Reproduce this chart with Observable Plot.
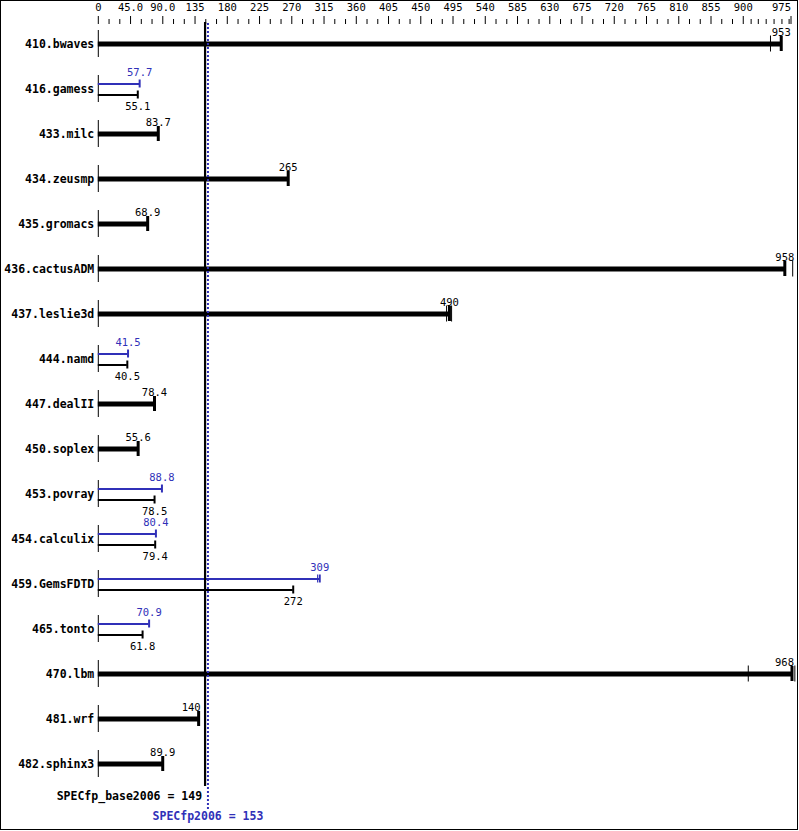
<!DOCTYPE html>
<html><head><meta charset="utf-8">
<script src="https://cdn.jsdelivr.net/npm/d3@7"></script>
<script src="https://cdn.jsdelivr.net/npm/@observablehq/plot@0.6"></script>
<style>
html,body{margin:0;padding:0;background:#fff;}
#wrap{width:796px;height:828px;border:1px solid #000;position:relative;overflow:hidden;background:#fff;}
#wrap svg{display:block;}
</style></head><body><div id="wrap"></div>
<script>
const benchmarks = ["410.bwaves","416.gamess","433.milc","434.zeusmp","435.gromacs","436.cactusADM","437.leslie3d","444.namd","447.dealII","450.soplex","453.povray","454.calculix","459.GemsFDTD","465.tonto","470.lbm","481.wrf","482.sphinx3"];
const baseValues = [953, 55.1, 83.7, 265, 68.9, 958, 490, 40.5, 78.4, 55.6, 78.5, 79.4, 272, 61.8, 968, 140, 89.9];
const peakValues = [953, 57.7, 83.7, 265, 68.9, 958, 490, 41.5, 78.4, 55.6, 88.8, 80.4, 309, 70.9, 968, 140, 89.9];
const baseLabels = ["953","55.1","83.7","265","68.9","958","490","40.5","78.4","55.6","78.5","79.4","272","61.8","968","140","89.9"];
const peakLabels = ["953","57.7","83.7","265","68.9","958","490","41.5","78.4","55.6","88.8","80.4","309","70.9","968","140","89.9"];
// other (non-median) run results shown as thin ticks
const runBench = ["410.bwaves","436.cactusADM","437.leslie3d","437.leslie3d","459.GemsFDTD","470.lbm","470.lbm"];
const runValues = [938, 969, 486, 493, 306, 907, 972];
const runSeries = ["both","both","both","both","peak","both","both"];
const majorTicks = [0,45,90,135,180,225,270,315,360,405,450,495,540,585,630,675,720,765,810,855,900];
const majorLabels = ["0","45.0","90.0","135","180","225","270","315","360","405","450","495","540","585","630","675","720","765","810","855","900"];
const endTick = [975];
const endLabel = ["975"];
const minorTicks = [15,30,60,75,105,120,150,165,195,210,240,255,285,300,330,345,375,390,420,435,465,480,510,525,555,570,600,615,645,660,690,705,735,750,780,795,825,840,870,885,911,921,932,943,954,964];
const baseMean = 149, peakMean = 153;
const baseMeanLabel = "SPECfp_base2006 = 149";
const peakMeanLabel = "SPECfp2006 = 153";

const BLUE = "#3030b8";
const rows = benchmarks.map((b, i) => ({b, base: baseValues[i], peak: peakValues[i], bl: baseLabels[i], pl: peakLabels[i]}));
const single = rows.filter(r => r.base === r.peak);
const dual = rows.filter(r => r.base !== r.peak);
const runs = runBench.map((b, i) => ({b, v: runValues[i], s: runSeries[i]}));
const labelMap = new Map(majorTicks.map((t, i) => [t, majorLabels[i]]));
const BW = 45; // band step in px
const span = half => (BW / 2 - half); // inset so that a tick spans +-half around the band centre
// labels that would collide with the mean line or the right edge are right-aligned
const endAligned = r => r.base >= 965 || (r.base < baseMean && r.base > baseMean - 15);

const chart = Plot.plot({
  width: 796, height: 828,
  marginTop: 22, marginBottom: 43, marginLeft: 96.5, marginRight: 0.7,
  style: {fontFamily: "'DejaVu Sans Mono', monospace", fontSize: "10.5px", color: "#000", background: "#fff"},
  x: {domain: [0, 975], range: [96.8, 795.5]},
  y: {type: "band", domain: benchmarks, range: [19.5, 784.5], padding: 0, axis: null},
  marks: [
    Plot.axisX({anchor: "top", ticks: minorTicks, tickSize: 5, text: null, stroke: "#000"}),
    Plot.axisX({anchor: "top", ticks: majorTicks, tickSize: 8, tickPadding: 5, tickFormat: d => labelMap.get(d), stroke: "#000", fill: "#000"}),
    Plot.axisX({anchor: "top", ticks: endTick, tickSize: 8, tickPadding: 5, tickFormat: () => endLabel[0], textAnchor: "end", dx: -6, stroke: "#000", fill: "#000"}),
    // row start ticks
    Plot.tickX(benchmarks, {x: () => 0, y: d => d, stroke: "#000", strokeWidth: 1, insetTop: span(13.5), insetBottom: span(13.5)}),
    // benchmark names
    Plot.text(benchmarks, {x: () => 0, y: d => d, text: d => d, textAnchor: "end", dx: -4, fontWeight: "bold", fontSize: 11.5, fill: "#000"}),
    // single (base = peak) bars
    Plot.ruleY(single, {y: "b", x1: () => 0, x2: "base", stroke: "#000", strokeWidth: 5}),
    Plot.tickX(single, {x: "base", y: "b", stroke: "#000", strokeWidth: 3, insetTop: span(7.5), insetBottom: span(7.5)}),
    Plot.text(single.filter(r => !endAligned(r)), {x: "base", y: "b", text: "bl", dy: -11, fill: "#000"}),
    Plot.text(single.filter(endAligned), {x: "base", y: "b", text: "bl", dy: -11, dx: 2, textAnchor: "end", fill: "#000"}),
    // dual bars: peak (blue) above, base (black) below
    Plot.ruleY(dual, {y: "b", x1: () => 0, x2: "peak", stroke: BLUE, strokeWidth: 2, dy: -5}),
    Plot.tickX(dual, {x: "peak", y: "b", stroke: BLUE, strokeWidth: 2, dy: -5, insetTop: span(4), insetBottom: span(4)}),
    Plot.text(dual, {x: "peak", y: "b", text: "pl", dy: -16, fill: BLUE}),
    Plot.ruleY(dual, {y: "b", x1: () => 0, x2: "base", stroke: "#000", strokeWidth: 2, dy: 6}),
    Plot.tickX(dual, {x: "base", y: "b", stroke: "#000", strokeWidth: 2, dy: 6, insetTop: span(4), insetBottom: span(4)}),
    Plot.text(dual, {x: "base", y: "b", text: "bl", dy: 18, fill: "#000"}),
    // other runs
    Plot.tickX(runs.filter(r => r.s === "both"), {x: "v", y: "b", stroke: "#000", strokeWidth: 1, insetTop: span(8), insetBottom: span(8)}),
    Plot.tickX(runs.filter(r => r.s === "peak"), {x: "v", y: "b", stroke: BLUE, strokeWidth: 1, dy: -5, insetTop: span(4), insetBottom: span(4)}),
    // mean lines (on top of the bars)
    Plot.ruleX([baseMean], {x: d => d, stroke: "#000", strokeWidth: 2.2, insetTop: -1}),
    Plot.ruleX([peakMean], {x: d => d, stroke: BLUE, strokeWidth: 2, strokeDasharray: "2,2", insetBottom: -24}),
    // summary labels
    Plot.text([baseMeanLabel], {x: () => baseMean, frameAnchor: "bottom", lineAnchor: "middle", text: d => d, textAnchor: "end", dx: -3, dy: 10, fontWeight: "bold", fontSize: 11.5, fill: "#000"}),
    Plot.text([peakMeanLabel], {x: () => peakMean, frameAnchor: "bottom", lineAnchor: "middle", text: d => d, dy: 30, fontWeight: "bold", fontSize: 11.5, fill: BLUE})
  ]
});
document.getElementById("wrap").appendChild(chart);
</script></body></html>
